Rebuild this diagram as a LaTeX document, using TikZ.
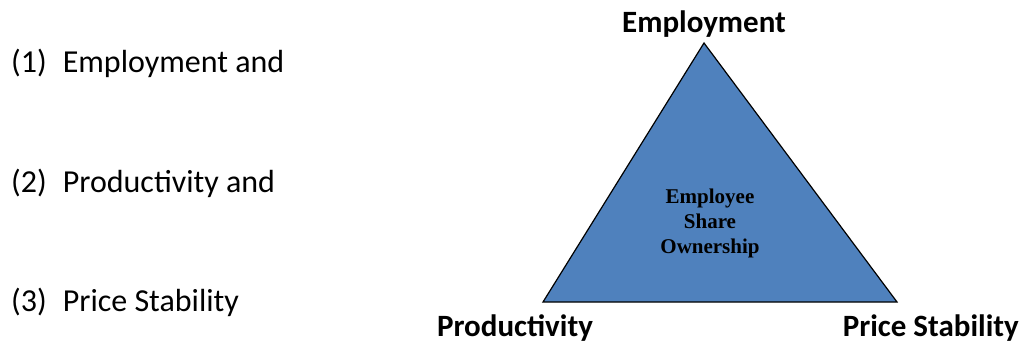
\documentclass[tikz,border=0pt]{standalone}
\usepackage{fontspec}
\setmainfont{Carlito}
\newfontfamily\serifbold{Liberation Serif}
\definecolor{triblue}{HTML}{4F81BD}
\begin{document}
\begin{tikzpicture}[x=1pt,y=-1pt,
  listitem/.style={anchor=base west,inner sep=0pt,font=\fontsize{32}{38}\selectfont},
  corner/.style={anchor=base,inner sep=0pt,font=\fontsize{31}{36}\selectfont\bfseries},
  centre/.style={inner sep=0pt,align=center,font=\fontsize{21}{25}\selectfont\serifbold\bfseries}]
\useasboundingbox (0,0) rectangle (1022,345);
% list on the left
\node[listitem] (l1) at (11,73) {(1)\hspace{0.5em}Employment and};
\node[listitem] (l2) at (11,192) {(2)\hspace{0.5em}Productivity and};
\node[listitem] (l3) at (11,311) {(3)\hspace{0.5em}Price Stability};
% triangle
\coordinate (top) at (704,43);
\coordinate (bl) at (543,302);
\coordinate (br) at (897,302);
\draw[fill=triblue,line width=1.2pt,line join=miter] (top) -- (br) -- (bl) -- cycle;
\node[centre] (esop) at (710,223) {Employee\\Share\\Ownership};
% corner labels
\node[corner] (emp) at (704,33) {Employment};
\node[corner] (prod) at (515,336) {Productivity};
\node[corner,anchor=base east] (price) at (1019,336) {Price Stability};
\end{tikzpicture}
\end{document}
